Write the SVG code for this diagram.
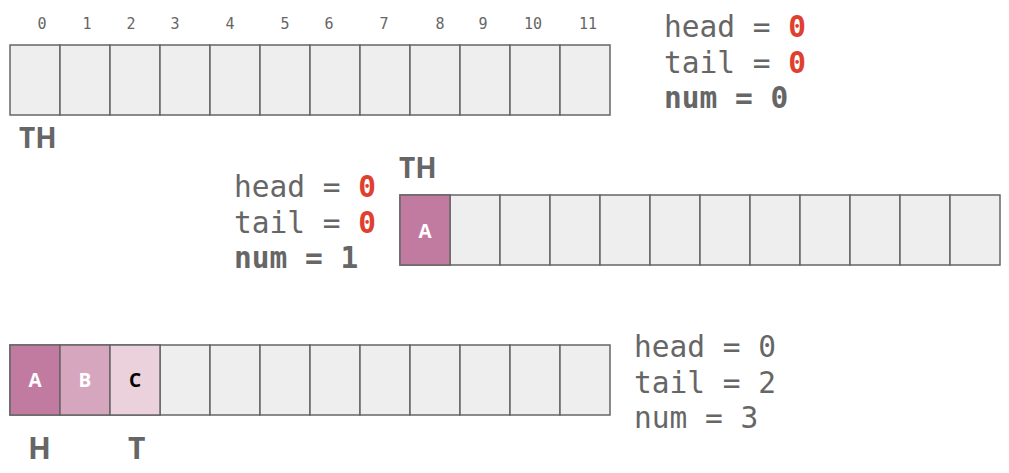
<svg xmlns="http://www.w3.org/2000/svg" width="1009" height="473" viewBox="0 0 1009 473">
<style>
.cell{fill:#eeeeee;stroke:#666666;stroke-width:1.5}
.a{fill:#c27ba0}.b{fill:#d5a6bd}.c{fill:#ead1dc}
.idx{font-family:"DejaVu Sans Mono","Liberation Mono",monospace;font-size:15px;fill:#666666;text-anchor:middle}
.var{font-family:"DejaVu Sans Mono","Liberation Mono",monospace;font-size:29.5px;fill:#666666}
.bold{font-weight:bold}
.red{fill:#e0402f;font-weight:bold}
.ptr{font-family:"Open Sans","Noto Sans",sans-serif;font-size:28px;font-weight:bold;fill:#666666}
.lbl{font-family:"Open Sans","Noto Sans",sans-serif;font-size:19px;font-weight:bold;text-anchor:middle;fill:#ffffff}
</style>
<defs>
<g id="row">
<rect class="cell" x="0" y="0" width="50" height="70"/>
<rect class="cell" x="50" y="0" width="50" height="70"/>
<rect class="cell" x="100" y="0" width="50" height="70"/>
<rect class="cell" x="150" y="0" width="50" height="70"/>
<rect class="cell" x="200" y="0" width="50" height="70"/>
<rect class="cell" x="250" y="0" width="50" height="70"/>
<rect class="cell" x="300" y="0" width="50" height="70"/>
<rect class="cell" x="350" y="0" width="50" height="70"/>
<rect class="cell" x="400" y="0" width="50" height="70"/>
<rect class="cell" x="450" y="0" width="50" height="70"/>
<rect class="cell" x="500" y="0" width="50" height="70"/>
<rect class="cell" x="550" y="0" width="50" height="70"/>
</g>
</defs>
<g id="connectors"/>
<g id="array1">
<g class="idx">
<text x="42" y="29">0</text><text x="87" y="29">1</text><text x="131" y="29">2</text><text x="175" y="29">3</text>
<text x="230" y="29">4</text><text x="285" y="29">5</text><text x="329" y="29">6</text><text x="384" y="29">7</text>
<text x="440" y="29">8</text><text x="483" y="29">9</text><text x="533" y="29">10</text><text x="588" y="29">11</text>
</g>
<use href="#row" x="10" y="45"/>
<text class="ptr" x="19" y="148">TH</text>
</g>
<g id="vars1">
<text class="var" x="664" y="37">head = <tspan class="red">0</tspan></text>
<text class="var" x="664" y="73">tail = <tspan class="red">0</tspan></text>
<text class="var bold" x="664" y="108">num = 0</text>
</g>
<g id="array2">
<text class="ptr" x="399" y="178">TH</text>
<use href="#row" x="400" y="195"/>
<rect class="cell a" x="400" y="195" width="50" height="70"/>
<text class="lbl" x="425" y="238">A</text>
</g>
<g id="vars2">
<text class="var" x="234" y="197">head = <tspan class="red">0</tspan></text>
<text class="var" x="234" y="233">tail = <tspan class="red">0</tspan></text>
<text class="var bold" x="234" y="268">num = 1</text>
</g>
<g id="array3">
<use href="#row" x="10" y="345"/>
<rect class="cell a" x="10" y="345" width="50" height="70"/>
<rect class="cell b" x="60" y="345" width="50" height="70"/>
<rect class="cell c" x="110" y="345" width="50" height="70"/>
<text class="lbl" x="35" y="387">A</text>
<text class="lbl" x="85" y="387">B</text>
<text class="lbl" x="135" y="387" style="fill:#000000">C</text>
<text class="ptr" x="28" y="459" style="font-size:30px">H</text>
<text class="ptr" x="128" y="459" style="font-size:30px">T</text>
</g>
<g id="vars3">
<text class="var" x="634" y="357">head = 0</text>
<text class="var" x="634" y="393">tail = 2</text>
<text class="var" x="634" y="428">num = 3</text>
</g>
</svg>
